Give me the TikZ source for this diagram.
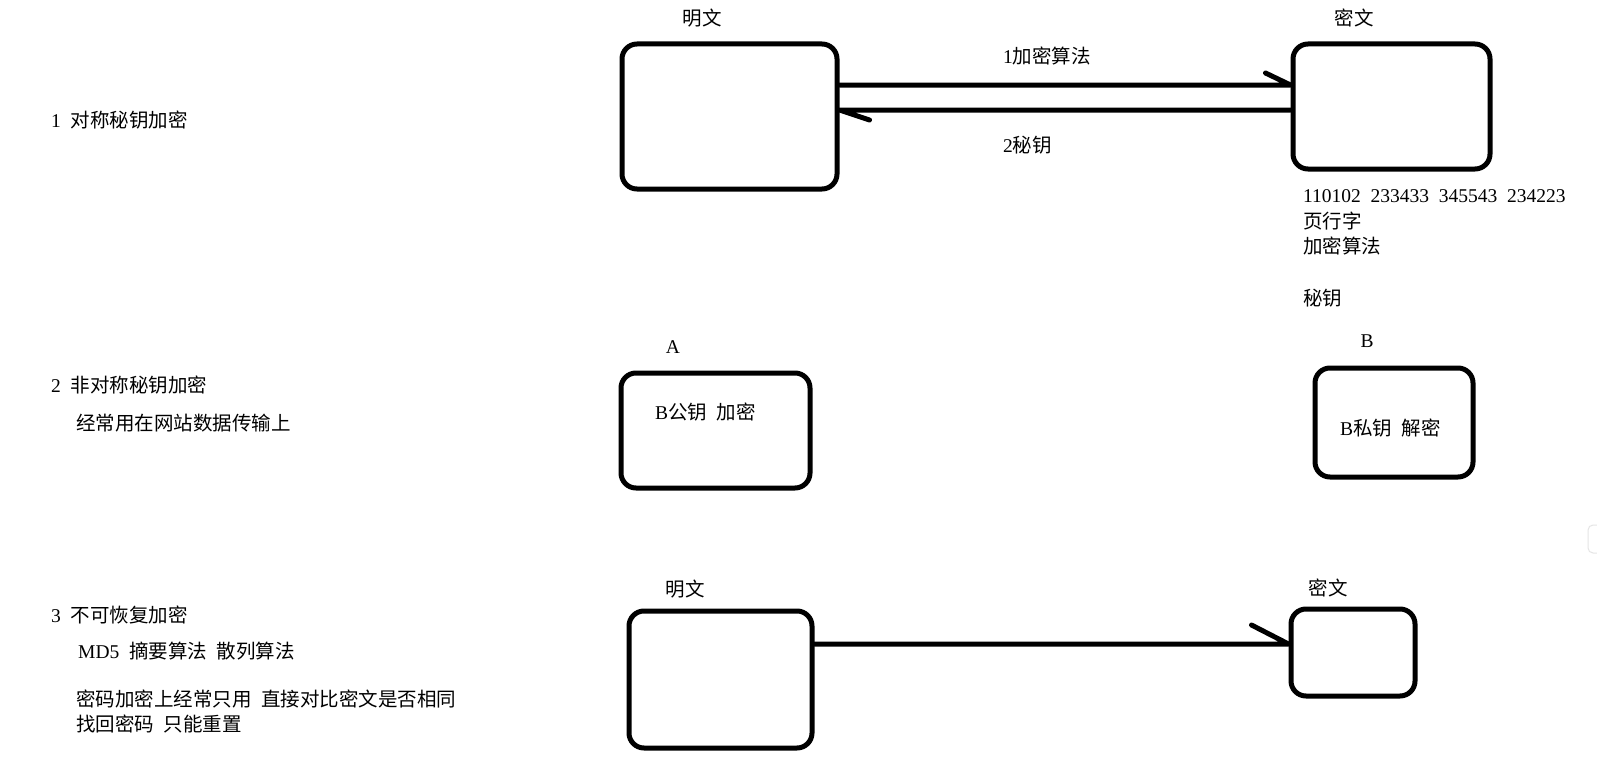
\documentclass[tikz,border=0pt]{standalone}
\usepackage{fontspec}
\setmainfont{Liberation Serif}
\newfontfamily\cjk{Noto Sans CJK SC}
\newcommand\hs{\hspace{9.75pt}}
\newcommand\zh[1]{{\cjk #1}}
\begin{document}
\begin{tikzpicture}[x=1pt,y=-1pt,
  txt/.style={inner sep=0pt, font=\fontsize{19.5}{24}\selectfont},
  lt/.style={txt, anchor=west},
  box/.style={draw, line width=5pt, rounded corners=15pt, inner sep=0pt},
  conn/.style={line width=5pt, line join=round, line cap=round}]
\useasboundingbox (0,0) rectangle (1597,768);
\fill[white] (0,0) rectangle (1597,768);

% left column
\node[lt] (t1) at (51,120) {1\hs\zh{对称秘钥加密}};
\node[lt] (t2) at (51,385) {2\hs\zh{非对称秘钥加密}};
\node[lt] (t2b) at (76,423) {\zh{经常用在网站数据传输上}};
\node[lt] (t3) at (51,615) {3\hs\zh{不可恢复加密}};
\node[lt] (t3b) at (78,651) {MD5\hs\zh{摘要算法}\hs\zh{散列算法}};
\node[lt] (t3c) at (76,699) {\zh{密码加密上经常只用}\hs\zh{直接对比密文是否相同}};
\node[lt] (t3d) at (76,724) {\zh{找回密码}\hs\zh{只能重置}};

% row 1
\node[box, minimum width=215pt, minimum height=145pt] (b1) at (729.5,116.5) {};
\node[box, minimum width=197pt, minimum height=125pt] (b2) at (1391.5,106.5) {};
\node[txt] (l1) at (702,18) {\zh{明文}};
\node[txt] (l2) at (1354,18) {\zh{密文}};
\draw[conn] (b1.east |- 0,85) -- (b2.west |- 0,85) -- ++(-25,-12);
\draw[conn] (b2.west |- 0,110) -- (b1.east |- 0,110) -- ++(30,10);
\node[lt] (e1) at (1003,56) {1\zh{加密算法}};
\node[lt] (e2) at (1003,145) {2\zh{秘钥}};
\node[lt] (n1) at (1303,196) {110102\hs233433\hs345543\hs234223};
\node[lt] (n2) at (1303,221) {\zh{页行字}};
\node[lt] (n3) at (1303,246) {\zh{加密算法}};
\node[lt] (n4) at (1303,298) {\zh{秘钥}};

% row 2
\node[box, minimum width=189pt, minimum height=115pt] (bA) at (715.5,430.5) {};
\node[box, minimum width=158pt, minimum height=109pt] (bB) at (1394,422.5) {};
\node[txt] (lA) at (673,347) {A};
\node[txt] (lB) at (1367,341) {B};
\node[lt] (tA) at (655,412) {B\zh{公钥}\hs\zh{加密}};
\node[lt] (tB) at (1340,428) {B\zh{私钥}\hs\zh{解密}};

% row 3
\node[box, minimum width=183pt, minimum height=137pt] (b3) at (720.5,679.5) {};
\node[box, minimum width=124pt, minimum height=87pt] (b4) at (1353,652.5) {};
\node[txt] (l3) at (685,589) {\zh{明文}};
\node[txt] (l4) at (1328,588) {\zh{密文}};
\draw[conn] (b3.east |- 0,644) -- (b4.west |- 0,644) -- ++(-37,-19);

% faint edge element
\draw[gray!20, line width=1pt, rounded corners=5pt] (1605,525) -- (1588,525) -- (1588,553) -- (1605,553);
\end{tikzpicture}
\end{document}
